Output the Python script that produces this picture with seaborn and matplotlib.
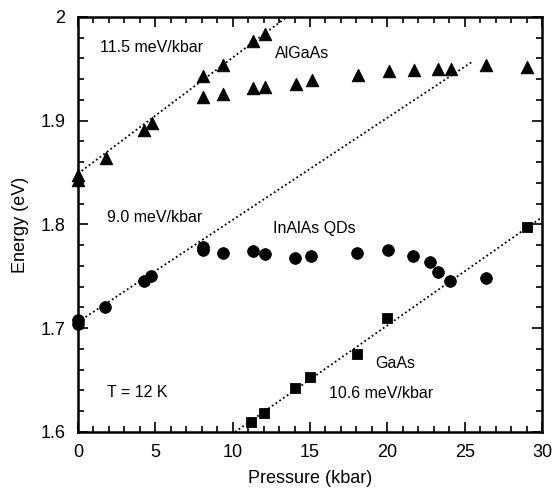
import numpy as np
import pandas as pd
import matplotlib
matplotlib.use("Agg")
import matplotlib.pyplot as plt
from matplotlib.ticker import MultipleLocator
import seaborn as sns

# Messpunkte
algaas_p = [0.0, 0.0, 1.8, 4.3, 4.8, 8.1, 8.1, 9.4, 9.4, 11.3, 11.3, 12.1, 12.1,
            14.1, 15.1, 18.1, 20.1, 21.7, 23.3, 24.1, 26.4, 29.05]
algaas_e = [1.843, 1.848, 1.864, 1.891, 1.898, 1.943, 1.923, 1.954, 1.926, 1.977, 1.932,
            1.984, 1.933, 1.935, 1.939, 1.944, 1.948, 1.949, 1.950, 1.950, 1.954, 1.952]

inalas_p = [0.0, 0.0, 1.75, 4.3, 4.75, 8.1, 8.1, 9.4, 11.3, 12.1, 14.05, 15.05,
            18.05, 20.05, 21.65, 22.75, 23.3, 24.05, 26.4]
inalas_e = [1.708, 1.704, 1.720, 1.746, 1.750, 1.778, 1.775, 1.773, 1.774, 1.772, 1.768,
            1.770, 1.773, 1.775, 1.770, 1.764, 1.754, 1.746, 1.748]

gaas_p = [11.2, 12.0, 14.05, 15.0, 18.05, 20.0, 29.05]
gaas_e = [1.610, 1.618, 1.6425, 1.653, 1.675, 1.710, 1.798]

# Ausgleichsgeraden (Endpunkte)
fit_algaas_p = [0.0, 13.5]
fit_algaas_e = [1.849, 2.0]
fit_inalas_p = [0.0, 25.5]
fit_inalas_e = [1.706, 1.957]
fit_gaas_p = [10.15, 29.9]
fit_gaas_e = [1.6, 1.806]

sns.set_style("ticks")
plt.rcParams['font.family'] = ['Liberation Sans', 'DejaVu Sans']
for k in ['text.color', 'axes.labelcolor', 'xtick.color', 'ytick.color', 'axes.edgecolor']:
    plt.rcParams[k] = 'black'

fig = plt.figure(figsize=(5.55, 4.97), dpi=100)
ax = fig.add_axes([0.1405, 0.1308, 0.8361, 0.835])

for px, ey in [(fit_algaas_p, fit_algaas_e), (fit_inalas_p, fit_inalas_e), (fit_gaas_p, fit_gaas_e)]:
    sns.lineplot(x=px, y=ey, ax=ax, color='black', linestyle=(0, (1, 1.5)), linewidth=1.3)

sns.scatterplot(x=algaas_p, y=algaas_e, ax=ax, marker='^', s=80, color='black', edgecolor='black', clip_on=False, zorder=3)
sns.scatterplot(x=inalas_p, y=inalas_e, ax=ax, marker='o', s=70, color='black', edgecolor='black', clip_on=False, zorder=3)
sns.scatterplot(x=gaas_p, y=gaas_e, ax=ax, marker='s', s=55, color='black', edgecolor='black', clip_on=False, zorder=3)

ax.set_xlim(0, 30)
ax.set_ylim(1.6, 2.0)
ax.xaxis.set_major_locator(MultipleLocator(5))
ax.xaxis.set_minor_locator(MultipleLocator(1))
ax.yaxis.set_major_locator(MultipleLocator(0.1))
ax.yaxis.set_minor_locator(MultipleLocator(0.02))
ax.set_yticks([1.6, 1.7, 1.8, 1.9, 2.0], ['1.6', '1.7', '1.8', '1.9', '2'])
ax.tick_params(which='both', direction='in', top=True, right=True, width=1.2, colors='black')
ax.tick_params(which='major', length=7, labelsize=13, pad=9)
ax.tick_params(which='minor', length=4)
for s in ax.spines.values():
    s.set_linewidth(1.8)
    s.set_color('black')

ax.set_xlabel('Pressure (kbar)', fontsize=13, labelpad=6)
ax.set_ylabel('Energy (eV)', fontsize=13, labelpad=8)

kw = dict(fontsize=11.5, va='center', ha='left', color='black')
ax.text(1.42, 1.971, '11.5 meV/kbar', **kw)
ax.text(12.75, 1.965, 'AlGaAs', **kw)
ax.text(1.85, 1.807, '9.0 meV/kbar', **kw)
ax.text(12.6, 1.796, 'InAlAs QDs', **kw)
ax.text(1.85, 1.638, 'T = 12 K', **kw)
ax.text(19.25, 1.666, 'GaAs', **kw)
ax.text(16.2, 1.637, '10.6 meV/kbar', **kw)

fig.savefig('out.png', dpi=100)
